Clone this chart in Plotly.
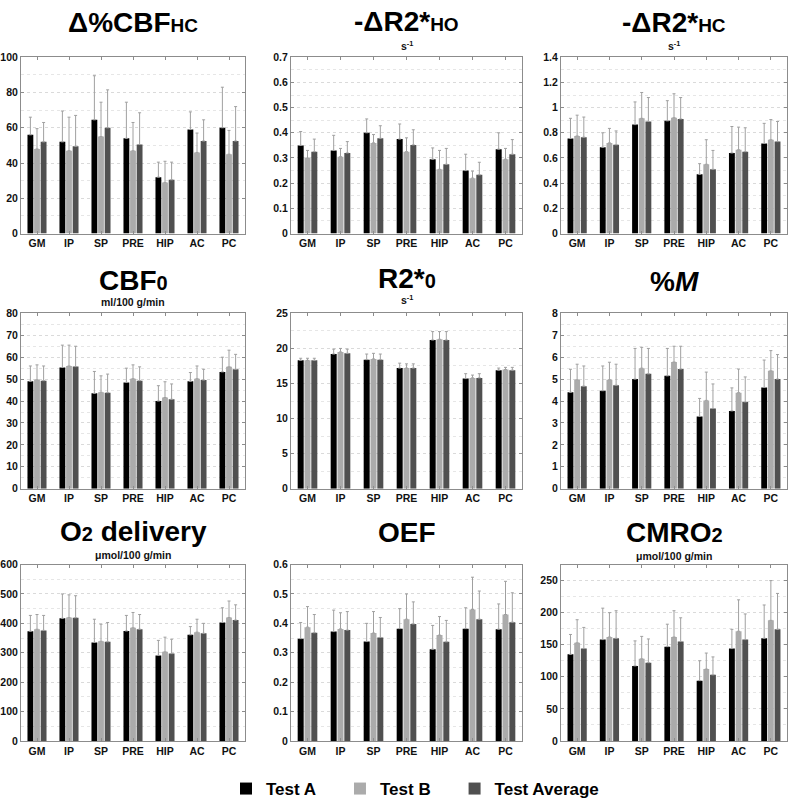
import plotly.graph_objects as go

regions = ["GM", "IP", "SP", "PRE", "HIP", "AC", "PC"]
series_names = ["Test A", "Test B", "Test Average"]
series_colors = ["#000000", "#ababab", "#505050"]

# --- values (means) and error-bar tops, per panel ---
cbf_hc_a = [56, 52, 64.5, 54, 32, 59, 60]
cbf_hc_b = [48, 47, 55, 47, 29, 46, 45]
cbf_hc_avg = [52, 49.5, 60, 50.5, 30.5, 52.5, 52.5]
cbf_hc_a_top = [66, 69.5, 89.5, 74.5, 40.5, 69, 83]
cbf_hc_b_top = [59.5, 66, 74.5, 63, 41, 57, 58.5]
cbf_hc_avg_top = [63, 67, 81.5, 68.5, 40.5, 64.5, 72]

r2ho_a = [0.35, 0.33, 0.40, 0.375, 0.295, 0.25, 0.335]
r2ho_b = [0.30, 0.305, 0.36, 0.325, 0.255, 0.22, 0.295]
r2ho_avg = [0.325, 0.32, 0.378, 0.352, 0.275, 0.233, 0.315]
r2ho_a_top = [0.405, 0.39, 0.455, 0.435, 0.34, 0.315, 0.40]
r2ho_b_top = [0.33, 0.338, 0.393, 0.38, 0.33, 0.248, 0.338]
r2ho_avg_top = [0.375, 0.365, 0.428, 0.412, 0.338, 0.283, 0.373]

r2hc_a = [0.755, 0.685, 0.865, 0.895, 0.47, 0.64, 0.715]
r2hc_b = [0.775, 0.72, 0.915, 0.92, 0.55, 0.665, 0.745]
r2hc_avg = [0.765, 0.705, 0.89, 0.91, 0.51, 0.65, 0.73]
r2hc_a_top = [0.915, 0.80, 1.045, 1.055, 0.555, 0.85, 0.875]
r2hc_b_top = [0.94, 0.835, 1.12, 1.11, 0.745, 0.845, 0.905]
r2hc_avg_top = [0.925, 0.815, 1.08, 1.08, 0.66, 0.84, 0.89]

cbf0_a = [49, 55.3, 43.5, 48.5, 40, 49, 53.3]
cbf0_b = [49.7, 56, 44, 50.2, 41.6, 50.2, 55.6]
cbf0_avg = [49.3, 55.7, 43.8, 49.3, 40.8, 49.6, 54.5]
cbf0_a_top = [56, 65.5, 53.5, 55, 47, 53, 60]
cbf0_b_top = [56.5, 65.5, 51.5, 56.5, 48.8, 56, 63.2]
cbf0_avg_top = [56, 65, 52.3, 55.6, 47.8, 54.5, 61.3]

r20_a = [18.3, 19.2, 18.4, 17.2, 21.2, 15.7, 16.9]
r20_b = [18.3, 19.5, 18.5, 17.2, 21.3, 15.8, 17.0]
r20_avg = [18.3, 19.3, 18.4, 17.2, 21.2, 15.8, 16.9]
r20_a_top = [18.6, 19.9, 19.2, 17.9, 22.4, 16.4, 17.2]
r20_b_top = [18.6, 20.0, 19.3, 17.8, 22.4, 16.2, 17.3]
r20_avg_top = [18.6, 19.9, 19.2, 17.8, 22.4, 16.4, 17.3]

m_a = [4.4, 4.47, 5.0, 5.15, 3.3, 3.55, 4.62]
m_b = [4.97, 4.97, 5.5, 5.78, 4.03, 4.38, 5.38]
m_avg = [4.68, 4.72, 5.24, 5.46, 3.66, 3.96, 5.0]
m_a_top = [5.45, 5.6, 6.4, 6.4, 4.12, 4.6, 5.87]
m_b_top = [5.68, 5.77, 6.45, 6.5, 5.32, 5.46, 6.3]
m_avg_top = [5.6, 5.68, 6.4, 6.5, 4.78, 5.1, 6.12]

o2d_a = [373, 417, 335, 374, 291, 361, 403]
o2d_b = [380, 420, 339, 385, 303, 370, 420]
o2d_avg = [376, 419, 337, 380, 297, 366, 411]
o2d_a_top = [427, 500, 414, 427, 342, 389, 453]
o2d_b_top = [430, 497, 397, 437, 353, 414, 476]
o2d_avg_top = [427, 494, 403, 430, 346, 400, 463]

oef_a = [0.348, 0.372, 0.338, 0.382, 0.312, 0.382, 0.38]
oef_b = [0.387, 0.381, 0.367, 0.414, 0.36, 0.447, 0.43]
oef_avg = [0.368, 0.377, 0.352, 0.398, 0.337, 0.414, 0.404]
oef_a_top = [0.403, 0.445, 0.4, 0.45, 0.393, 0.453, 0.466]
oef_b_top = [0.457, 0.436, 0.44, 0.5, 0.423, 0.557, 0.543]
oef_avg_top = [0.43, 0.44, 0.42, 0.473, 0.41, 0.51, 0.504]

cmro2_a = [135, 158, 117, 147, 94, 144, 160]
cmro2_b = [153, 162, 128, 162, 112, 171, 188]
cmro2_avg = [144, 160, 122, 155, 103, 158, 174]
cmro2_a_top = [166, 207, 156, 182, 125, 174, 212]
cmro2_b_top = [189, 200, 163, 203, 137, 220, 250]
cmro2_avg_top = [177, 203, 159, 192, 131, 198, 230]

SUB_L = '<span style="font-size:19px">{}</span>'
SUB_D = '<span style="font-size:20px">{}</span>'
panel_titles = ["Δ%CBF" + SUB_L.format("HC"), "-ΔR2*" + SUB_L.format("HO"),
                "-ΔR2*" + SUB_L.format("HC"),
                "CBF" + SUB_D.format("0"), "R2*" + SUB_D.format("0"), "%<i>M</i>",
                "O" + SUB_D.format("2") + " delivery", "OEF", "CMRO" + SUB_D.format("2")]
panel_units = ["", "s<sup>-1</sup>", "s<sup>-1</sup>",
               "ml/100 g/min", "s<sup>-1</sup>", "",
               "μmol/100 g/min", "", "μmol/100 g/min"]
y_ranges = [100, 0.7, 1.4, 80, 25, 8, 600, 0.6, 275]
y_dticks = [20, 0.1, 0.2, 10, 5, 1, 100, 0.1, 50]

panels = [
    (cbf_hc_a, cbf_hc_b, cbf_hc_avg, cbf_hc_a_top, cbf_hc_b_top, cbf_hc_avg_top),
    (r2ho_a, r2ho_b, r2ho_avg, r2ho_a_top, r2ho_b_top, r2ho_avg_top),
    (r2hc_a, r2hc_b, r2hc_avg, r2hc_a_top, r2hc_b_top, r2hc_avg_top),
    (cbf0_a, cbf0_b, cbf0_avg, cbf0_a_top, cbf0_b_top, cbf0_avg_top),
    (r20_a, r20_b, r20_avg, r20_a_top, r20_b_top, r20_avg_top),
    (m_a, m_b, m_avg, m_a_top, m_b_top, m_avg_top),
    (o2d_a, o2d_b, o2d_avg, o2d_a_top, o2d_b_top, o2d_avg_top),
    (oef_a, oef_b, oef_avg, oef_a_top, oef_b_top, oef_avg_top),
    (cmro2_a, cmro2_b, cmro2_avg, cmro2_a_top, cmro2_b_top, cmro2_avg_top),
]

W, H = 789, 807


def px_x(p):
    return p / W


def px_y(p):
    return 1 - p / H


col_px = [(21, 245), (291, 522), (561, 787)]
row_px = [(52, 231), (312, 490), (567, 746)]
title_y_px = [[17, 16, 17], [279, 277, 280], [533, 534, 534]]
unit_y_px = [[40, 40, 40], [300, 298, 300], [557, 557, 558]]

FONT = "Liberation Sans, Arial, sans-serif"
fig = go.Figure()

# legend labels padded with no-break spaces so the entries sit as far apart as in the reference
legend_pad = ["\u00a0\u00a0\u00a0\u00a0", "\u00a0\u00a0\u00a0\u00a0", ""]

for i, (a, b, avg, at, bt, avgt) in enumerate(panels):
    r, c = divmod(i, 3)
    ax = "" if i == 0 else str(i + 1)
    xref, yref = "x" + ax, "y" + ax
    vals = [a, b, avg]
    tops = [at, bt, avgt]
    for s in range(3):
        err = [t - v for t, v in zip(tops[s], vals[s])]
        fig.add_trace(go.Bar(
            x=regions, y=vals[s], name="<b>" + series_names[s] + "</b>" + legend_pad[s],
            marker=dict(color=series_colors[s], line=dict(width=0)),
            error_y=dict(type="data", array=err, arrayminus=[0] * len(err),
                         symmetric=False, color="#a0a0a0", thickness=1, width=1.5),
            xaxis=xref, yaxis=yref, showlegend=(i == 0),
            legendgroup=series_names[s],
        ))
    x0, x1 = col_px[c]
    y0, y1 = row_px[r]
    fig.layout["xaxis" + ax] = dict(
        domain=[px_x(x0), px_x(x1)], anchor=yref,
        showline=True, linecolor="#8c8c8c", linewidth=1, mirror="ticks",
        ticks="inside", ticklen=3, tickcolor="#8c8c8c",
        tickfont=dict(family=FONT, size=10.5, color="#111", weight="bold"),
        showgrid=False, fixedrange=True,
    )
    fig.layout["yaxis" + ax] = dict(
        domain=[px_y(y1), px_y(y0)], anchor=xref,
        range=[0, y_ranges[i]], dtick=y_dticks[i], tick0=0,
        showline=True, linecolor="#8c8c8c", linewidth=1, mirror="ticks",
        ticks="inside", ticklen=3, tickcolor="#8c8c8c",
        tickfont=dict(family=FONT, size=10.5, color="#111", weight="bold"),
        showgrid=True, gridcolor="#dadada", griddash="dot", gridwidth=1,
        minor=dict(showgrid=True, gridcolor="#e6e6e6", griddash="dot",
                   dtick=y_dticks[i] / 2, tick0=0),
        zeroline=False, fixedrange=True,
    )
    cx = px_x((x0 + x1) / 2)
    fig.add_annotation(
        text="<b>" + panel_titles[i] + "</b>", xref="paper", yref="paper",
        x=cx, y=px_y(title_y_px[r][c]), showarrow=False,
        font=dict(family=FONT, size=28, color="#000"), xanchor="center", yanchor="middle",
    )
    if panel_units[i]:
        fig.add_annotation(
            text="<b>" + panel_units[i] + "</b>", xref="paper", yref="paper",
            x=cx, y=px_y(unit_y_px[r][c]), showarrow=False,
            font=dict(family=FONT, size=10.5, color="#111"), xanchor="center", yanchor="middle",
        )

fig.update_layout(
    width=W, height=H, margin=dict(l=0, r=0, t=0, b=0),
    paper_bgcolor="white", plot_bgcolor="white",
    barmode="group", bargap=0.38, bargroupgap=0.12,
    legend=dict(orientation="h", x=px_x(226), xanchor="left", y=px_y(795), yanchor="middle",
                font=dict(family=FONT, size=17, color="#000"), itemwidth=30,
                traceorder="normal"),
    font=dict(family=FONT),
)

fig.write_html(
    "out.html",
    config={"displayModeBar": False},
    post_script="document.body.style.margin='0';document.body.style.overflow='hidden';",
)
